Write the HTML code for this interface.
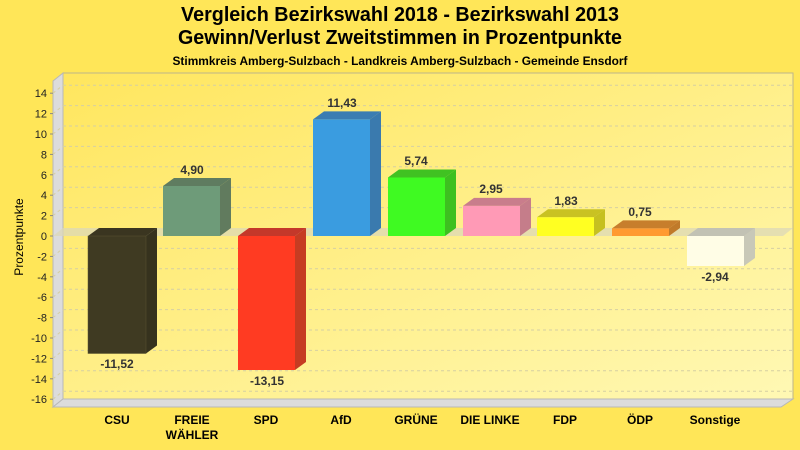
<!DOCTYPE html>
<html><head><meta charset="utf-8"><style>
html,body{margin:0;padding:0;background:#FFE65A;}
svg{display:block;}
text{font-family:"Liberation Sans",Arial,sans-serif;}
</style></head><body>
<svg width="800" height="450" viewBox="0 0 800 450" xmlns="http://www.w3.org/2000/svg">
<defs>
<linearGradient id="bg" x1="0" y1="0" x2="0" y2="1">
<stop offset="0" stop-color="#FFE658"/><stop offset="1" stop-color="#FFE658"/>
</linearGradient>
<linearGradient id="wall" x1="0" y1="0" x2="1" y2="1">
<stop offset="0" stop-color="#FFE65E"/><stop offset="1" stop-color="#FFF8B4"/>
</linearGradient>
</defs>
<rect x="0" y="0" width="800" height="450" fill="#FFE658"/>
<!-- titles -->
<text x="400" y="21" font-size="20" font-weight="bold" text-anchor="middle" fill="#000" textLength="438" lengthAdjust="spacingAndGlyphs">Vergleich Bezirkswahl 2018 - Bezirkswahl 2013</text>
<text x="400" y="44" font-size="20" font-weight="bold" text-anchor="middle" fill="#000" textLength="444" lengthAdjust="spacingAndGlyphs">Gewinn/Verlust Zweitstimmen in Prozentpunkte</text>
<text x="400" y="65" font-size="12" font-weight="bold" text-anchor="middle" fill="#000" textLength="455" lengthAdjust="spacingAndGlyphs">Stimmkreis Amberg-Sulzbach - Landkreis Amberg-Sulzbach - Gemeinde Ensdorf</text>

<!-- back wall -->
<rect x="63" y="73" width="730" height="326" fill="url(#wall)" stroke="#BDB58A" stroke-width="1"/>
<!-- left wall -->
<polygon points="53,81 63,73 63,399 53,407" fill="#DCDCDC" stroke="#B8B8B8" stroke-width="1"/>
<!-- floor -->
<polygon points="53,407 63,399 793,399 781,407" fill="#DCDCDC" stroke="#B8B8B8" stroke-width="1"/>

<!-- gridlines -->
<g stroke="#D6CFA2" stroke-width="1" stroke-dasharray="3,3" fill="none">
<line x1="63" y1="85.2" x2="793" y2="85.2"/><line x1="53" y1="93.2" x2="63" y2="85.2"/>
<line x1="63" y1="105.6" x2="793" y2="105.6"/><line x1="53" y1="113.6" x2="63" y2="105.6"/>
<line x1="63" y1="126" x2="793" y2="126"/><line x1="53" y1="134" x2="63" y2="126"/>
<line x1="63" y1="146.4" x2="793" y2="146.4"/><line x1="53" y1="154.4" x2="63" y2="146.4"/>
<line x1="63" y1="166.8" x2="793" y2="166.8"/><line x1="53" y1="174.8" x2="63" y2="166.8"/>
<line x1="63" y1="187.2" x2="793" y2="187.2"/><line x1="53" y1="195.2" x2="63" y2="187.2"/>
<line x1="63" y1="207.6" x2="793" y2="207.6"/><line x1="53" y1="215.6" x2="63" y2="207.6"/>
<line x1="63" y1="248.4" x2="793" y2="248.4"/><line x1="53" y1="256.4" x2="63" y2="248.4"/>
<line x1="63" y1="268.8" x2="793" y2="268.8"/><line x1="53" y1="276.8" x2="63" y2="268.8"/>
<line x1="63" y1="289.2" x2="793" y2="289.2"/><line x1="53" y1="297.2" x2="63" y2="289.2"/>
<line x1="63" y1="309.6" x2="793" y2="309.6"/><line x1="53" y1="317.6" x2="63" y2="309.6"/>
<line x1="63" y1="330" x2="793" y2="330"/><line x1="53" y1="338" x2="63" y2="330"/>
<line x1="63" y1="350.4" x2="793" y2="350.4"/><line x1="53" y1="358.4" x2="63" y2="350.4"/>
<line x1="63" y1="370.8" x2="793" y2="370.8"/><line x1="53" y1="378.8" x2="63" y2="370.8"/>
<line x1="63" y1="391.2" x2="793" y2="391.2"/><line x1="53" y1="399.2" x2="63" y2="391.2"/>
</g>
<!-- zero plane -->
<polygon points="53,236 63,228 793,228 783,236" fill="#DCD8B8" fill-opacity="0.75"/>

<!-- ticks -->
<g stroke="#888" stroke-width="1">
<line x1="50" y1="93.2" x2="53" y2="93.2"/><line x1="50" y1="113.6" x2="53" y2="113.6"/>
<line x1="50" y1="134" x2="53" y2="134"/><line x1="50" y1="154.4" x2="53" y2="154.4"/>
<line x1="50" y1="174.8" x2="53" y2="174.8"/><line x1="50" y1="195.2" x2="53" y2="195.2"/>
<line x1="50" y1="215.6" x2="53" y2="215.6"/><line x1="50" y1="236" x2="53" y2="236"/>
<line x1="50" y1="256.4" x2="53" y2="256.4"/><line x1="50" y1="276.8" x2="53" y2="276.8"/>
<line x1="50" y1="297.2" x2="53" y2="297.2"/><line x1="50" y1="317.6" x2="53" y2="317.6"/>
<line x1="50" y1="338" x2="53" y2="338"/><line x1="50" y1="358.4" x2="53" y2="358.4"/>
<line x1="50" y1="378.8" x2="53" y2="378.8"/><line x1="50" y1="399.2" x2="53" y2="399.2"/>
</g>
<g font-size="11" fill="#222" text-anchor="end">
<text x="47" y="97">14</text><text x="47" y="117.5">12</text><text x="47" y="138">10</text>
<text x="47" y="158.5">8</text><text x="47" y="179">6</text><text x="47" y="199">4</text>
<text x="47" y="219.5">2</text><text x="47" y="240">0</text><text x="47" y="260.5">-2</text>
<text x="47" y="281">-4</text><text x="47" y="301">-6</text><text x="47" y="321.5">-8</text>
<text x="47" y="342">-10</text><text x="47" y="362.5">-12</text><text x="47" y="383">-14</text>
<text x="47" y="403">-16</text>
</g>
<text transform="translate(23,237) rotate(-90)" font-size="12" text-anchor="middle" fill="#000">Prozentpunkte</text>

<!-- bars -->
<!-- CSU -11.52 -->
<g>
<polygon points="88,236 146,236 157,228 99,228" fill="#3A3520"/>
<polygon points="146,236 157,228 157,345.5 146,353.5" fill="#36321E"/>
<rect x="88" y="236" width="58" height="117.5" fill="#3F3A22" stroke="#5A5430" stroke-width="0.5"/>
</g>
<!-- FREIE WÄHLER 4.90 -->
<g>
<polygon points="163,186 220,186 231,178 174,178" fill="#5F7C60"/>
<polygon points="220,186 231,178 231,228 220,236" fill="#617B5E"/>
<rect x="163" y="186" width="57" height="50" fill="#6E9B79"/>
</g>
<!-- SPD -13.15 -->
<g>
<polygon points="238,236 295,236 306,228 249,228" fill="#C4382A"/>
<polygon points="295,236 306,228 306,362 295,370" fill="#C63C22"/>
<rect x="238" y="236" width="57" height="134" fill="#FF3B22"/>
</g>
<!-- AfD 11.43 -->
<g>
<polygon points="313,119.4 370,119.4 381,111.4 324,111.4" fill="#3B7DB2"/>
<polygon points="370,119.4 381,111.4 381,228 370,236" fill="#3A7AAE"/>
<rect x="313" y="119.4" width="57" height="116.6" fill="#3A9CE0"/>
</g>
<!-- GRÜNE 5.74 -->
<g>
<polygon points="388,177.5 445,177.5 456,169.5 399,169.5" fill="#40C222"/>
<polygon points="445,177.5 456,169.5 456,228 445,236" fill="#3DC020"/>
<rect x="388" y="177.5" width="57" height="58.5" fill="#3FFA22"/>
</g>
<!-- DIE LINKE 2.95 -->
<g>
<polygon points="463,205.9 520,205.9 531,197.9 474,197.9" fill="#C97D8C"/>
<polygon points="520,205.9 531,197.9 531,228 520,236" fill="#C57D8A"/>
<rect x="463" y="205.9" width="57" height="30.1" fill="#FF9AB6"/>
</g>
<!-- FDP 1.83 -->
<g>
<polygon points="537,217.3 594,217.3 605,209.3 548,209.3" fill="#C9C222"/>
<polygon points="594,217.3 605,209.3 605,228 594,236" fill="#C6C020"/>
<rect x="537" y="217.3" width="57" height="18.7" fill="#FFFF22"/>
</g>
<!-- ÖDP 0.75 -->
<g>
<polygon points="612,228.4 669,228.4 680,220.4 623,220.4" fill="#C77E2C"/>
<polygon points="669,228.4 680,220.4 680,228 669,236" fill="#C07A2A"/>
<rect x="612" y="228.4" width="57" height="7.6" fill="#FF9A30"/>
</g>
<!-- Sonstige -2.94 -->
<g>
<polygon points="687,236 744,236 755,228 698,228" fill="#C2C2B4"/>
<polygon points="744,236 755,228 755,258 744,266" fill="#C8C8B8"/>
<rect x="687" y="236" width="57" height="30" fill="#FFFDE6"/>
</g>

<!-- value labels -->
<g font-size="12" font-weight="bold" fill="#333" text-anchor="middle">
<text x="117" y="368">-11,52</text>
<text x="192" y="174">4,90</text>
<text x="267" y="385">-13,15</text>
<text x="342" y="107">11,43</text>
<text x="416" y="165">5,74</text>
<text x="491" y="193">2,95</text>
<text x="566" y="205">1,83</text>
<text x="640" y="216">0,75</text>
<text x="715" y="281">-2,94</text>
</g>

<!-- category labels -->
<g font-size="12" font-weight="bold" fill="#000" text-anchor="middle">
<text x="117" y="424">CSU</text>
<text x="192" y="424">FREIE</text>
<text x="192" y="439">WÄHLER</text>
<text x="266" y="424">SPD</text>
<text x="341" y="424">AfD</text>
<text x="416" y="424">GRÜNE</text>
<text x="490" y="424">DIE LINKE</text>
<text x="565" y="424">FDP</text>
<text x="640" y="424">ÖDP</text>
<text x="715" y="424">Sonstige</text>
</g>
</svg>
</body></html>
